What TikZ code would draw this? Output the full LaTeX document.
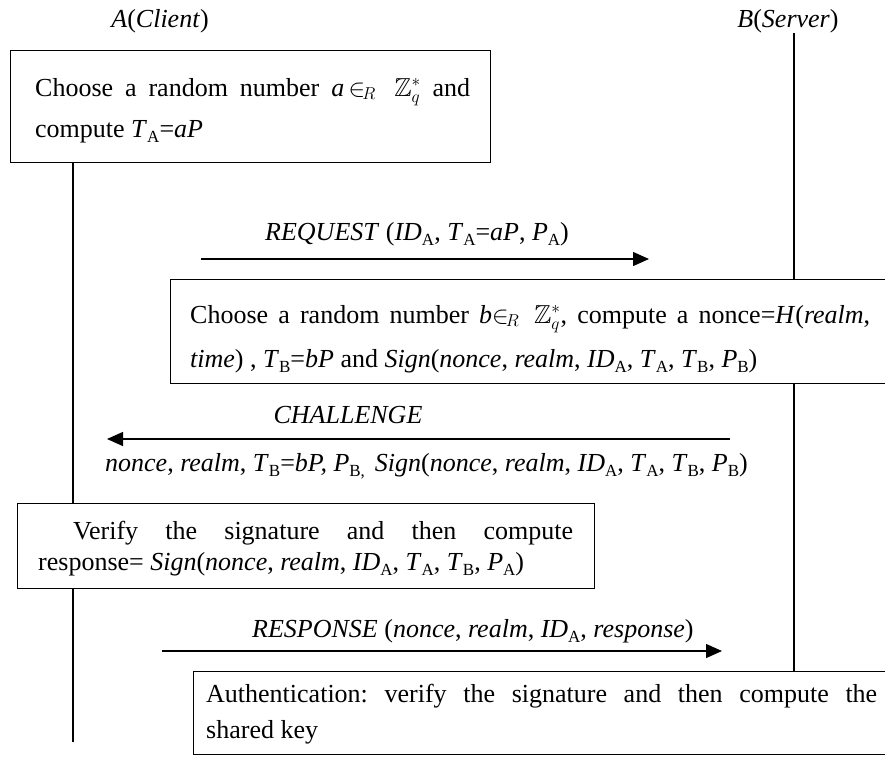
\documentclass[tikz,border=0pt]{standalone}
\usepackage{amssymb}
\usepackage{fontspec}
\setmainfont{Liberation Serif}
\usetikzlibrary{arrows.meta}
\newcommand{\lsub}[1]{\raisebox{-0.22em}{\fontsize{17}{17}\selectfont #1}}
\newcommand{\zqs}{$\in_{\!R}\mathbb{Z}^{*}_{q}$}
\begin{document}
\begin{tikzpicture}[x=1pt,y=-1pt,
  font=\fontsize{26}{31}\selectfont\frenchspacing,
  box/.style={draw,line width=1.3pt,inner sep=0pt,anchor=north west},
  txt/.style={inner sep=0pt,anchor=base west},
  lifeline/.style={line width=1.3pt},
  msg/.style={line width=1.3pt,-{Triangle[length=16pt,width=14pt]}}]
\useasboundingbox (0,0) rectangle (885,756);
\clip (0,0) rectangle (885,756);
% actors
\node[inner sep=0pt,anchor=base] (A) at (160,27) {\textit{A}(\textit{Client})};
\node[inner sep=0pt,anchor=base] (B) at (788,27) {\textit{B}(\textit{Server})};
\coordinate (Ax) at (73,0);
\coordinate (Btop) at (794,33);
\coordinate (Aend) at (73,742);
% boxes
\node[box,minimum width=480,minimum height=112] (box1) at (10,50) {};
\node[box,minimum width=730,minimum height=104] (box2) at (170,279) {};
\node[box,minimum width=577,minimum height=85] (box3) at (17,503) {};
\node[box,minimum width=707,minimum height=83] (box4) at (193,671) {};
% lifelines
\draw[lifeline] (box1.south -| Ax) -- (box3.north -| Ax);
\draw[lifeline] (box3.south -| Ax) -- (Aend);
\draw[lifeline] (Btop) -- (box2.north -| Btop);
\draw[lifeline] (box2.south -| Btop) -- (box4.north -| Btop);
% box texts
\node[txt] (t1a) at (35,96) {\makebox[435pt][s]{Choose a random number \textit{a}\,\zqs{} and}};
\node[txt] (t1b) at (35,137) {compute \textit{T}\lsub{A}=\textit{aP}};
\node[txt] (t2a) at (190,323) {\makebox[680pt][s]{Choose a random number \textit{b}\zqs, compute a nonce=\textit{H}(\textit{realm},}};
\node[txt] (t2b) at (190,367) {\textit{time}) , \textit{T}\lsub{B}=\textit{bP} and \textit{Sign}(\textit{nonce}, \textit{realm}, \textit{ID}\lsub{A}, \textit{T}\lsub{A}, \textit{T}\lsub{B}, \textit{P}\lsub{B})};
\node[txt] (t3a) at (73,539) {\makebox[500pt][s]{Verify the signature and then compute}};
\node[txt] (t3b) at (38,570) {response= \textit{Sign}(\textit{nonce}, \textit{realm}, \textit{ID}\lsub{A}, \textit{T}\lsub{A}, \textit{T}\lsub{B}, \textit{P}\lsub{A})};
\node[txt] (t4a) at (206,702) {\makebox[671pt][s]{Authentication: verify the signature and then compute the}};
\node[txt] (t4b) at (206,738) {shared key};
% messages
\coordinate (m1s) at (201,259);
\coordinate (m1e) at (649,259);
\draw[msg] (m1s) -- (m1e);
\node[txt] (m1l) at (265,240) {\textit{REQUEST} (\textit{ID}\lsub{A}, \textit{T}\lsub{A}=\textit{aP}, \textit{P}\lsub{A})};
\coordinate (m2s) at (730,439);
\coordinate (m2e) at (107,439);
\draw[msg] (m2s) -- (m2e);
\node[inner sep=0pt,anchor=base] (m2l) at (348,423) {\textit{CHALLENGE}};
\node[txt] (m2p) at (105,471) {\textit{nonce}, \textit{realm}, \textit{T}\lsub{B}=\textit{bP, P}\lsub{B,}\hspace{10pt}\textit{Sign}(\textit{nonce}, \textit{realm}, \textit{ID}\lsub{A}, \textit{T}\lsub{A}, \textit{T}\lsub{B}, \textit{P}\lsub{B})};
\coordinate (m3s) at (162,651);
\coordinate (m3e) at (722,651);
\draw[msg] (m3s) -- (m3e);
\node[txt] (m3l) at (252,637) {\textit{RESPONSE} (\textit{nonce}, \textit{realm}, \textit{ID}\lsub{A}, \textit{response})};
\end{tikzpicture}
\end{document}
